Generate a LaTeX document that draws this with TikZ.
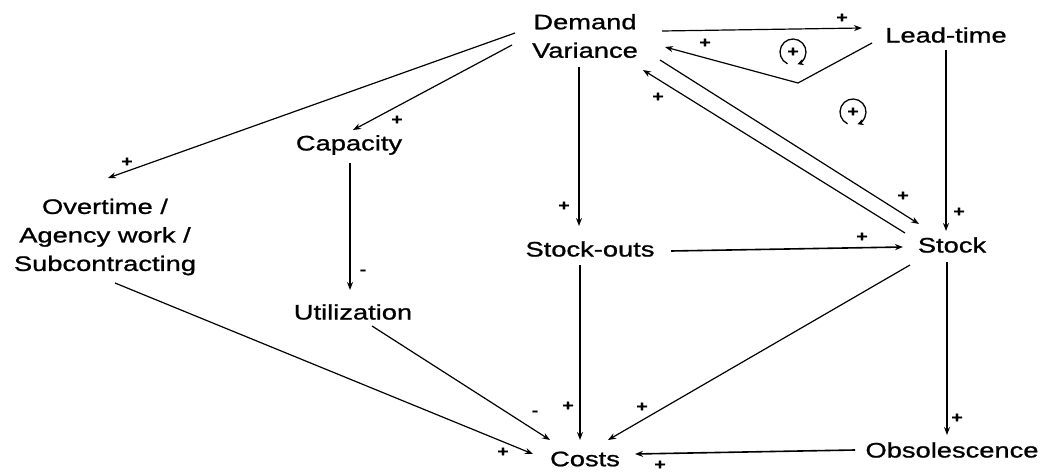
\documentclass[tikz,border=0pt]{standalone}
\usepackage{fontspec}
\setmainfont{Liberation Sans}[FakeStretch=1.3,FakeBold=1]
\usetikzlibrary{arrows.meta,calc}
\tikzset{
  var/.style={inner sep=0pt, align=center, font=\fontsize{21}{28.5}\selectfont},
  link/.style={line width=1.2pt, -{Stealth[length=8pt,width=6pt]}},
  sgn/.style={inner sep=0pt, font=\fontsize{15}{15}\selectfont\bfseries},
  loopc/.style={line width=1.3pt, -{Stealth[length=6pt,width=6pt]}}
}
\begin{document}
\begin{tikzpicture}[x=1pt,y=-1pt]
\useasboundingbox (0,0) rectangle (1051,473);
% nodes
\node[var] (DV) at (585,36) {Demand\\Variance};
\node[var] (LT) at (946,35) {Lead-time};
\node[var] (Cap) at (349,145) {Capacity};
\node[var] (OT) at (105,237) {Overtime /\\Agency work /\\Subcontracting};
\node[var] (Util) at (353,312) {Utilization};
\node[var] (SO) at (590,249) {Stock-outs};
\node[var] (St) at (952,245) {Stock};
\node[var] (Co) at (585,459) {Costs};
\node[var] (Ob) at (952,450) {Obsolescence};
% connectors
\draw[link] ($(DV)+(77,-5)$) -- ($(LT)+(-84,-7)$);
\draw[link] ($(LT)+(-74,8)$) -- ($(LT)+(-148,48)$) -- ($(DV)+(80,11)$);
\draw[link] ($(DV)+(75,24)$) -- ($(St)+(-33,-21)$);
\draw[link] ($(St)+(-47,-12)$) -- ($(DV)+(58,34)$);
\draw[link] ($(DV)+(-6,31)$) -- ($(SO)+(-11,-23)$);
\draw[link] ($(DV)+(-73,9)$) -- ($(Cap)+(4,-15)$);
\draw[link] ($(DV)+(-70,-3)$) -- ($(OT)+(3,-59)$);
\draw[link, line width=1.8pt] ($(Cap)+(1,18)$) -- ($(Util)+(-3,-22)$);
\draw[link] ($(Util)+(19,14)$) -- ($(Co)+(-35,-19)$);
\draw[link] ($(OT)+(10,46)$) -- ($(Co)+(-52,-5)$);
\draw[link] ($(SO)+(-10,16)$) -- ($(Co)+(-5,-19)$);
\draw[link] ($(St)+(-42,20)$) -- ($(Co)+(23,-19)$);
\draw[link, line width=1.6pt] ($(SO)+(81,2)$) -- ($(St)+(-49,2)$);
\draw[link] ($(LT)+(0,15)$) -- ($(St)+(-6,-14)$);
\draw[link] ($(St)+(-5,17)$) -- ($(Ob)+(-5,-15)$);
\draw[link, line width=1.6pt] ($(Ob)+(-97,0)$) -- ($(Co)+(50,-5)$);
% polarity signs
\node[sgn] (s1) at (842,18) {+};
\node[sgn] (s2) at (705,43) {+};
\node[sgn] (s3) at (903,196) {+};
\node[sgn] (s4) at (658,97) {+};
\node[sgn] (s5) at (564,206) {+};
\node[sgn] (s6) at (397,120) {+};
\node[sgn] (s7) at (127,162) {+};
\node[sgn] (s8) at (363,272) {-};
\node[sgn] (s9) at (535,413) {-};
\node[sgn] (s10) at (503,452) {+};
\node[sgn] (s11) at (568,406) {+};
\node[sgn] (s12) at (642,407) {+};
\node[sgn] (s13) at (862,237) {+};
\node[sgn] (s14) at (959,212) {+};
\node[sgn] (s15) at (957,418) {+};
\node[sgn] (s16) at (660,465) {+};
% loop markers
\node[sgn] (L1) at (793,52) {+};
\draw[loopc] ($(L1)+(115:13)$) arc[start angle=115, end angle=430, radius=13];
\node[sgn] (L2) at (853,112) {+};
\draw[loopc] ($(L2)+(115:13)$) arc[start angle=115, end angle=430, radius=13];
\end{tikzpicture}
\end{document}
